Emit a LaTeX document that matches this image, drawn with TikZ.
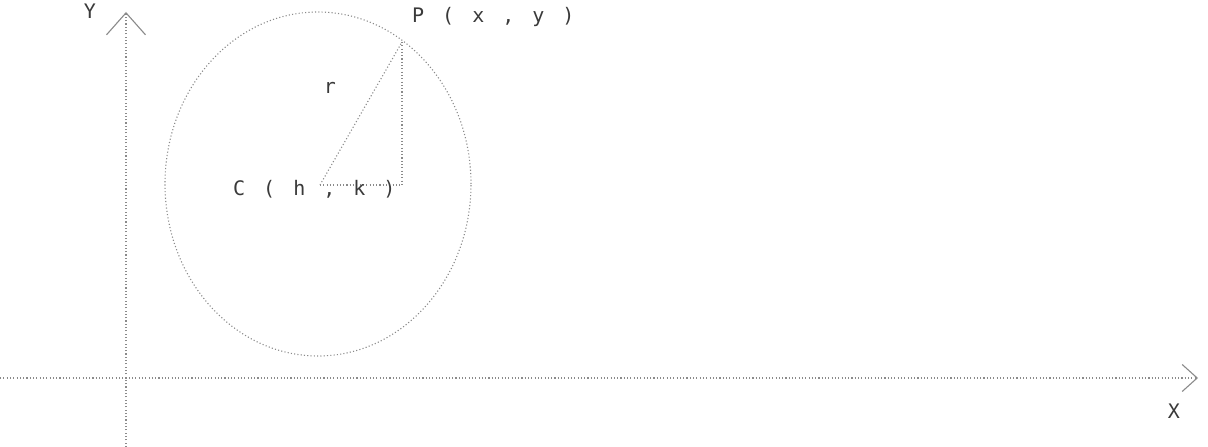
\documentclass[tikz,border=0pt]{standalone}
\usepackage{fontspec}
\usetikzlibrary{arrows.meta}
\newfontfamily\dotfont[LetterSpace=90]{DejaVu Sans Mono}
\definecolor{dotGray}{HTML}{8A8A8A}
\definecolor{inkGray}{HTML}{3A3A3A}
\tikzset{
  dotline/.style={draw=dotGray,line width=1.1pt,dash pattern=on 1.1pt off 2.2pt},
  axis/.style={dotline},
  lbl/.style={font=\dotfont\fontsize{20}{20}\selectfont,text=inkGray,inner sep=0pt},
}
\begin{document}
\begin{tikzpicture}[x=1pt,y=1pt]
\useasboundingbox (0,0) rectangle (1208,447);

% axes
\coordinate (xl) at (0,69);
\coordinate (xr) at (1198,69);
\coordinate (yb) at (126,0);
\coordinate (yt) at (126,435);
\draw[axis,-{Straight Barb[length=15pt,width=27pt,line width=1.1pt]}] (xl) -- (xr);
\draw[axis,-{Straight Barb[length=22pt,width=39pt,line width=1.1pt]}] (yb) -- (yt);

\node[lbl] (ylab) at (90,436) {Y};
\node[lbl] (xlab) at (1174,36) {X};

% circle (drawn as printed)
\draw[dotline] (318,263) ellipse [x radius=153,y radius=172];

% points
\coordinate (C) at (320,262);
\coordinate (P) at (402,405);
\coordinate (Q) at (402,262);

\draw[dotline] (C) -- (P);
\draw[dotline] (P) -- (Q);
\draw[dotline] (C) -- (Q);

\node[lbl,anchor=west] (plab) at (412,430) {P(x,y)};
\node[lbl,anchor=west] (clab) at (233,258) {C(h,k)};
\node[lbl] (rlab) at (330,359) {r};

\end{tikzpicture}
\end{document}
